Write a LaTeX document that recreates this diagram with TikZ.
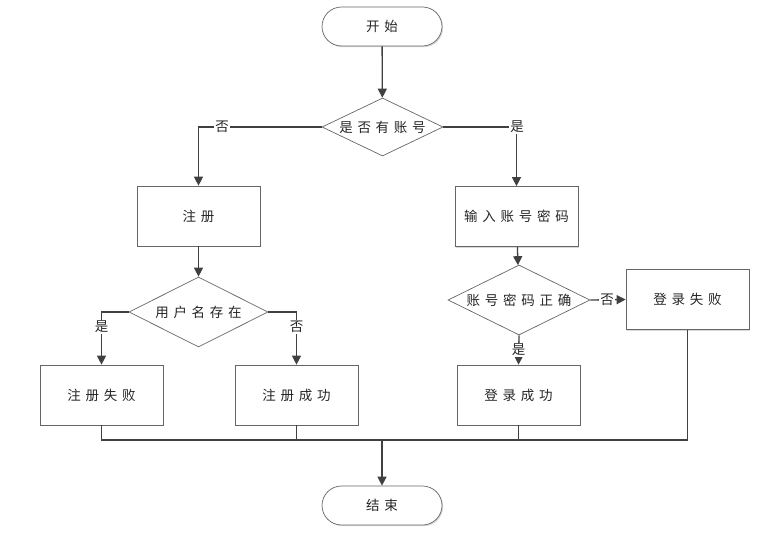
\documentclass[tikz,border=0pt]{standalone}
\usepackage{fontspec}
\newfontfamily\cjk[LetterSpace=35]{Noto Sans CJK SC}
\usetikzlibrary{shapes.geometric,shadows,arrows.meta}
\begin{document}
\begin{tikzpicture}[x=1pt,y=-1pt,
  every node/.style={font=\cjk\fontsize{13.5}{13.5}\selectfont, text=black!85},
  shad/.style={drop shadow={opacity=0.25, shadow xshift=1.2pt, shadow yshift=-1.2pt, fill=black!60}},
  box/.style={draw=black!60, line width=0.7pt, fill=white, minimum width=123pt, minimum height=60pt, shad},
  term/.style={draw=black!60, line width=0.7pt, fill=white, rounded corners=19.5pt, minimum width=120pt, minimum height=39pt, shad},
  dec/.style={diamond, aspect=2, inner sep=0pt, draw=black!60, line width=0.7pt, fill=white, minimum width=121pt, minimum height=58pt},
  arr/.style={draw=black!75, line width=1.3pt, -{Triangle[length=9pt,width=9pt]}},
  ln/.style={draw=black!75, line width=1.3pt},
  lbl/.style={fill=white, inner sep=1pt}]
\useasboundingbox (0,0) rectangle (764,538);
\node[term] (start) at (382,26.5) {开始};
\node[dec] (d1) at (382.5,127) {是否有账号};
\node[box] (reg) at (198.5,216) {注册};
\node[dec, minimum width=139pt, minimum height=70pt] (d2) at (198.5,312) {用户名存在};
\node[box] (rf) at (101.5,395) {注册失败};
\node[box] (rs) at (296.5,395) {注册成功};
\node[box] (inp) at (516.5,216.5) {输入账号密码};
\node[dec, minimum width=142pt, minimum height=70pt] (d3) at (519,300) {账号密码正确};
\node[box] (lf) at (687.5,299.5) {登录失败};
\node[box] (ls) at (518.5,395) {登录成功};
\node[term] (end) at (382,505.5) {结束};
\coordinate (m) at (382,440);

\draw[arr] (start) -- (d1);
\draw[arr] (d1.west) -| (reg.north);
\draw[arr] (d1.east) -| (inp.north);
\draw[arr] (reg) -- (d2);
\draw[arr] (d2.west) -| (rf.north);
\draw[arr] (d2.east) -| (rs.north);
\draw[arr] (inp) -- (d3);
\draw[arr] (d3.east) -- (lf.west);
\draw[arr] (d3.south) -- (ls.north);
\draw[ln] (rf.south) |- (m);
\draw[ln] (rs.south) |- (m);
\draw[ln] (ls.south) |- (m);
\draw[ln] (lf.south) |- (m);
\draw[arr] (m) -- (end);

\node[lbl] (l1) at (222,127) {否};
\node[lbl] (l2) at (517,127) {是};
\node[lbl] (l3) at (101.5,327) {是};
\node[lbl] (l4) at (296.5,327) {否};
\node[lbl] (l5) at (607,300) {否};
\node[lbl] (l6) at (518.5,350) {是};
\end{tikzpicture}
\end{document}
